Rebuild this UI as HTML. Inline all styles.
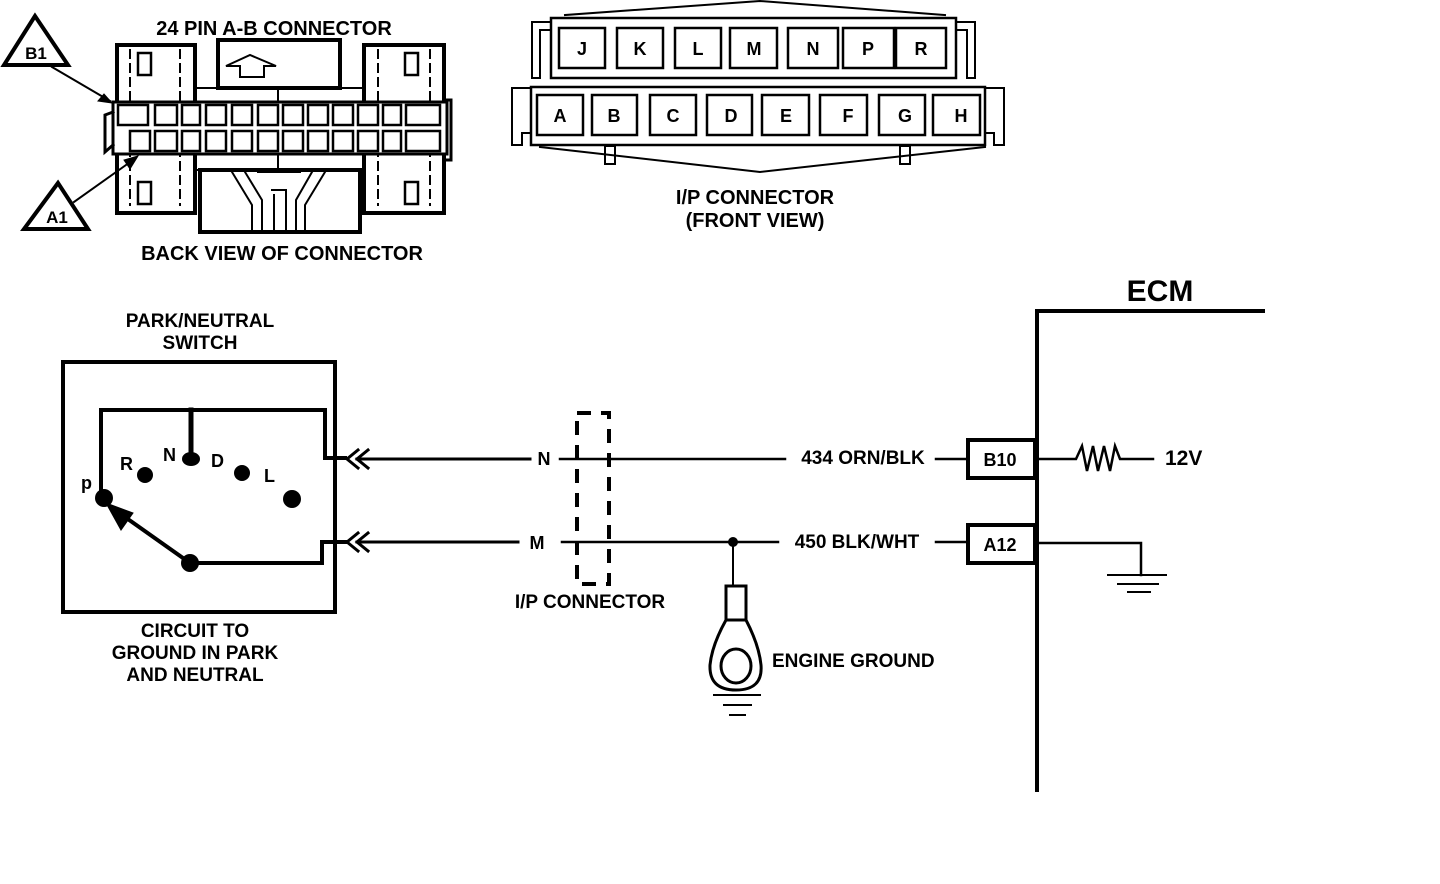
<!DOCTYPE html>
<html><head><style>
html,body{margin:0;padding:0;background:#fff;}
svg{display:block;}
text{font-family:"Liberation Sans",sans-serif;font-weight:bold;fill:#000;}
</style></head><body>
<svg width="1440" height="884" viewBox="0 0 1440 884" xmlns="http://www.w3.org/2000/svg">
<rect width="1440" height="884" fill="#fff"/>
<g stroke="#000" fill="none" stroke-linecap="square">
<!-- 24 pin connector -->
<text x="274" y="35" font-size="20" text-anchor="middle" stroke="none">24 PIN A-B  CONNECTOR</text>
<rect x="117" y="45" width="78" height="168" stroke-width="4"/>
<rect x="364" y="45" width="80" height="168" stroke-width="4"/>
<rect x="218" y="40" width="122" height="48" stroke-width="4"/>
<rect x="200" y="170" width="160" height="62" stroke-width="4"/>
<rect x="195" y="88" width="169" height="82" stroke-width="2"/>
<line x1="278" y1="90" x2="278" y2="168" stroke-width="2"/>
<line x1="130" y1="50" x2="130" y2="205" stroke-width="2" stroke-dasharray="8,6"/>
<line x1="180" y1="50" x2="180" y2="205" stroke-width="2" stroke-dasharray="8,6"/>
<line x1="378" y1="50" x2="378" y2="205" stroke-width="2" stroke-dasharray="8,6"/>
<line x1="430" y1="50" x2="430" y2="205" stroke-width="2" stroke-dasharray="8,6"/>
<rect x="138" y="53" width="13" height="22" stroke-width="2.5"/>
<rect x="405" y="53" width="13" height="22" stroke-width="2.5"/>
<rect x="138" y="182" width="13" height="22" stroke-width="2.5"/>
<rect x="405" y="182" width="13" height="22" stroke-width="2.5"/>
<path d="M226 66 L250 55 L276 66 L264 66 L264 77 L240 77 L240 66 Z" stroke-width="2"/>
<rect x="113" y="102" width="334" height="52" fill="#fff" stroke-width="3"/>
<g stroke-width="2.5">
<rect x="118" y="105" width="30" height="20"/><rect x="155" y="105" width="22" height="20"/><rect x="182" y="105" width="18" height="20"/>
<rect x="206" y="105" width="20" height="20"/><rect x="232" y="105" width="20" height="20"/><rect x="258" y="105" width="20" height="20"/>
<rect x="283" y="105" width="20" height="20"/><rect x="308" y="105" width="20" height="20"/><rect x="333" y="105" width="20" height="20"/>
<rect x="358" y="105" width="20" height="20"/><rect x="383" y="105" width="18" height="20"/><rect x="406" y="105" width="34" height="20"/>
<rect x="130" y="131" width="20" height="20"/><rect x="155" y="131" width="22" height="20"/><rect x="182" y="131" width="18" height="20"/>
<rect x="206" y="131" width="20" height="20"/><rect x="232" y="131" width="20" height="20"/><rect x="258" y="131" width="20" height="20"/>
<rect x="283" y="131" width="20" height="20"/><rect x="308" y="131" width="20" height="20"/><rect x="333" y="131" width="20" height="20"/>
<rect x="358" y="131" width="20" height="20"/><rect x="383" y="131" width="18" height="20"/><rect x="406" y="131" width="34" height="20"/>
</g>
<path d="M113 112 L105 115 L105 152 L113 145" stroke-width="3"/>
<path d="M447 100 L451 100 L451 160 L447 160" stroke-width="3"/>
<path d="M232 172 L252 205 L252 230 M245 172 L262 200 L262 230 M325 172 L305 205 L305 230 M312 172 L296 200 L296 230 M258 172 L300 172 M272 190 L286 190 L286 230 M274 195 L274 230" stroke-width="2"/>
<!-- triangles -->
<path d="M35 16 L4 65 L68 65 Z" stroke-width="4"/>
<text x="36" y="59" font-size="17" text-anchor="middle" stroke="none">B1</text>
<path d="M58 183 L24 229 L88 229 Z" stroke-width="4"/>
<text x="57" y="223" font-size="17" text-anchor="middle" stroke="none">A1</text>
<line x1="52" y1="67" x2="110" y2="101" stroke-width="2"/>
<path d="M112 103 L98 101 L104 94 Z" fill="#000" stroke-width="1"/>
<line x1="74" y1="202" x2="133" y2="160" stroke-width="2"/>
<path d="M138 156 L130 169 L124 160 Z" fill="#000" stroke-width="1"/>
<text x="282" y="260" font-size="20" text-anchor="middle" stroke="none">BACK VIEW OF CONNECTOR</text>

<!-- I/P connector front view -->
<path d="M565 15 L760 1 L945 15" stroke-width="2"/>
<path d="M540 147 L760 172 L985 147" stroke-width="2"/>
<rect x="551" y="18" width="405" height="60" stroke-width="2.5"/>
<path d="M551 22 L532 22 L532 78 L540 78 L540 30 L551 30" stroke-width="2"/>
<path d="M956 22 L975 22 L975 78 L967 78 L967 30 L956 30" stroke-width="2"/>
<rect x="531" y="87" width="454" height="58" stroke-width="2.5"/>
<path d="M531 88 L512 88 L512 145 L522 145 L522 133 L531 133" stroke-width="2"/>
<path d="M985 88 L1004 88 L1004 145 L994 145 L994 133 L985 133" stroke-width="2"/>
<rect x="605" y="146" width="10" height="18" stroke-width="2"/>
<rect x="900" y="146" width="10" height="18" stroke-width="2"/>
<g stroke-width="2.5">
<rect x="559" y="28" width="46" height="40"/><rect x="617" y="28" width="46" height="40"/><rect x="675" y="28" width="46" height="40"/>
<rect x="730" y="28" width="47" height="40"/><rect x="788" y="28" width="50" height="40"/><rect x="843" y="28" width="51" height="40"/><rect x="896" y="28" width="50" height="40"/>
<rect x="537" y="95" width="46" height="40"/><rect x="592" y="95" width="45" height="40"/><rect x="650" y="95" width="46" height="40"/><rect x="707" y="95" width="45" height="40"/>
<rect x="762" y="95" width="47" height="40"/><rect x="820" y="95" width="47" height="40"/><rect x="879" y="95" width="46" height="40"/><rect x="933" y="95" width="47" height="40"/>
</g>
<g font-size="18" text-anchor="middle" stroke="none">
<text x="582" y="55">J</text><text x="640" y="55">K</text><text x="698" y="55">L</text><text x="754" y="55">M</text><text x="813" y="55">N</text><text x="868" y="55">P</text><text x="921" y="55">R</text>
<text x="560" y="122">A</text><text x="614" y="122">B</text><text x="673" y="122">C</text><text x="731" y="122">D</text><text x="786" y="122">E</text><text x="848" y="122">F</text><text x="905" y="122">G</text><text x="961" y="122">H</text>
</g>
<text x="755" y="204" font-size="20" text-anchor="middle" stroke="none">I/P CONNECTOR</text>
<text x="755" y="227" font-size="20" text-anchor="middle" stroke="none">(FRONT VIEW)</text>

<!-- Park/neutral switch -->
<text x="200" y="327" font-size="19" text-anchor="middle" stroke="none">PARK/NEUTRAL</text>
<text x="200" y="349" font-size="19" text-anchor="middle" stroke="none">SWITCH</text>
<rect x="63" y="362" width="272" height="250" stroke-width="4"/>
<path d="M101 495 L101 410 L325 410 L325 458 L345 458" stroke-width="4"/>
<line x1="191" y1="410" x2="191" y2="458" stroke-width="5"/>
<path d="M190 563 L322 563 L322 542 L345 542" stroke-width="4"/>
<line x1="190" y1="563" x2="115" y2="510" stroke-width="4"/>
<path d="M106 503 L133 513 L121 530 Z" fill="#000" stroke-width="1"/>
<g fill="#000" stroke="none">
<ellipse cx="191" cy="459" rx="9" ry="7"/>
<circle cx="145" cy="475" r="8"/><circle cx="242" cy="473" r="8"/><circle cx="292" cy="499" r="9"/>
<circle cx="104" cy="498" r="9"/><circle cx="190" cy="563" r="9"/>
</g>
<g font-size="18" stroke="none">
<text x="120" y="470">R</text><text x="163" y="461">N</text><text x="211" y="467">D</text><text x="264" y="482">L</text><text x="81" y="489">p</text>
</g>
<text x="195" y="637" font-size="19" text-anchor="middle" stroke="none">CIRCUIT TO</text>
<text x="195" y="659" font-size="19" text-anchor="middle" stroke="none">GROUND IN PARK</text>
<text x="195" y="681" font-size="19" text-anchor="middle" stroke="none">AND NEUTRAL</text>
<!-- connector arrows -->
<path d="M358 450 L347 459 L358 468 M368 450 L357 459 L368 468" stroke-width="3"/>
<path d="M358 533 L347 542 L358 551 M368 533 L357 542 L368 551" stroke-width="3"/>
<line x1="357" y1="459" x2="530" y2="459" stroke-width="3"/>
<line x1="357" y1="542" x2="518" y2="542" stroke-width="3"/>
<text x="544" y="465" font-size="18" text-anchor="middle" stroke="none">N</text>
<text x="537" y="549" font-size="18" text-anchor="middle" stroke="none">M</text>
<line x1="560" y1="459" x2="785" y2="459" stroke-width="2.5"/>
<line x1="562" y1="542" x2="778" y2="542" stroke-width="2.5"/>
<rect x="577" y="413" width="32" height="171" stroke-width="4" stroke-dasharray="14,10" stroke-linecap="butt"/>
<text x="590" y="608" font-size="19" text-anchor="middle" stroke="none">I/P CONNECTOR</text>
<text x="863" y="464" font-size="19" text-anchor="middle" stroke="none">434 ORN/BLK</text>
<text x="857" y="548" font-size="19" text-anchor="middle" stroke="none">450 BLK/WHT</text>
<line x1="936" y1="459" x2="968" y2="459" stroke-width="2.5"/>
<line x1="936" y1="542" x2="968" y2="542" stroke-width="2.5"/>
<!-- engine ground -->
<circle cx="733" cy="542" r="5" fill="#000" stroke="none"/>
<line x1="733" y1="542" x2="733" y2="586" stroke-width="2"/>
<rect x="726" y="586" width="20" height="34" stroke-width="3"/>
<path d="M726 620 Q712 645 710 665 Q709 690 736 690 Q763 690 761 665 Q759 645 746 620" stroke-width="3"/>
<ellipse cx="736" cy="666" rx="15" ry="17" stroke-width="3"/>
<line x1="714" y1="695" x2="760" y2="695" stroke-width="2"/>
<line x1="724" y1="705" x2="751" y2="705" stroke-width="2"/>
<line x1="730" y1="715" x2="745" y2="715" stroke-width="2"/>
<text x="772" y="667" font-size="19" stroke="none">ENGINE GROUND</text>
<!-- ECM -->
<text x="1160" y="301" font-size="30" text-anchor="middle" stroke="none">ECM</text>
<path d="M1037 790 L1037 311 L1263 311" stroke-width="4"/>
<rect x="968" y="440" width="67" height="38" stroke-width="4"/>
<text x="1000" y="466" font-size="18" text-anchor="middle" stroke="none">B10</text>
<rect x="968" y="525" width="67" height="38" stroke-width="4"/>
<text x="1000" y="551" font-size="18" text-anchor="middle" stroke="none">A12</text>
<path d="M1039 459 L1076 459 L1082 446 L1087 471 L1093 446 L1098 471 L1104 446 L1110 471 L1115 446 L1120 459 L1153 459" stroke-width="2.5"/>
<text x="1165" y="465" font-size="21" stroke="none">12V</text>
<path d="M1039 543 L1141 543 L1141 575" stroke-width="2.5"/>
<line x1="1108" y1="575" x2="1166" y2="575" stroke-width="2"/>
<line x1="1118" y1="584" x2="1158" y2="584" stroke-width="2"/>
<line x1="1128" y1="592" x2="1150" y2="592" stroke-width="2"/>
</g>
</svg>
</body></html>
